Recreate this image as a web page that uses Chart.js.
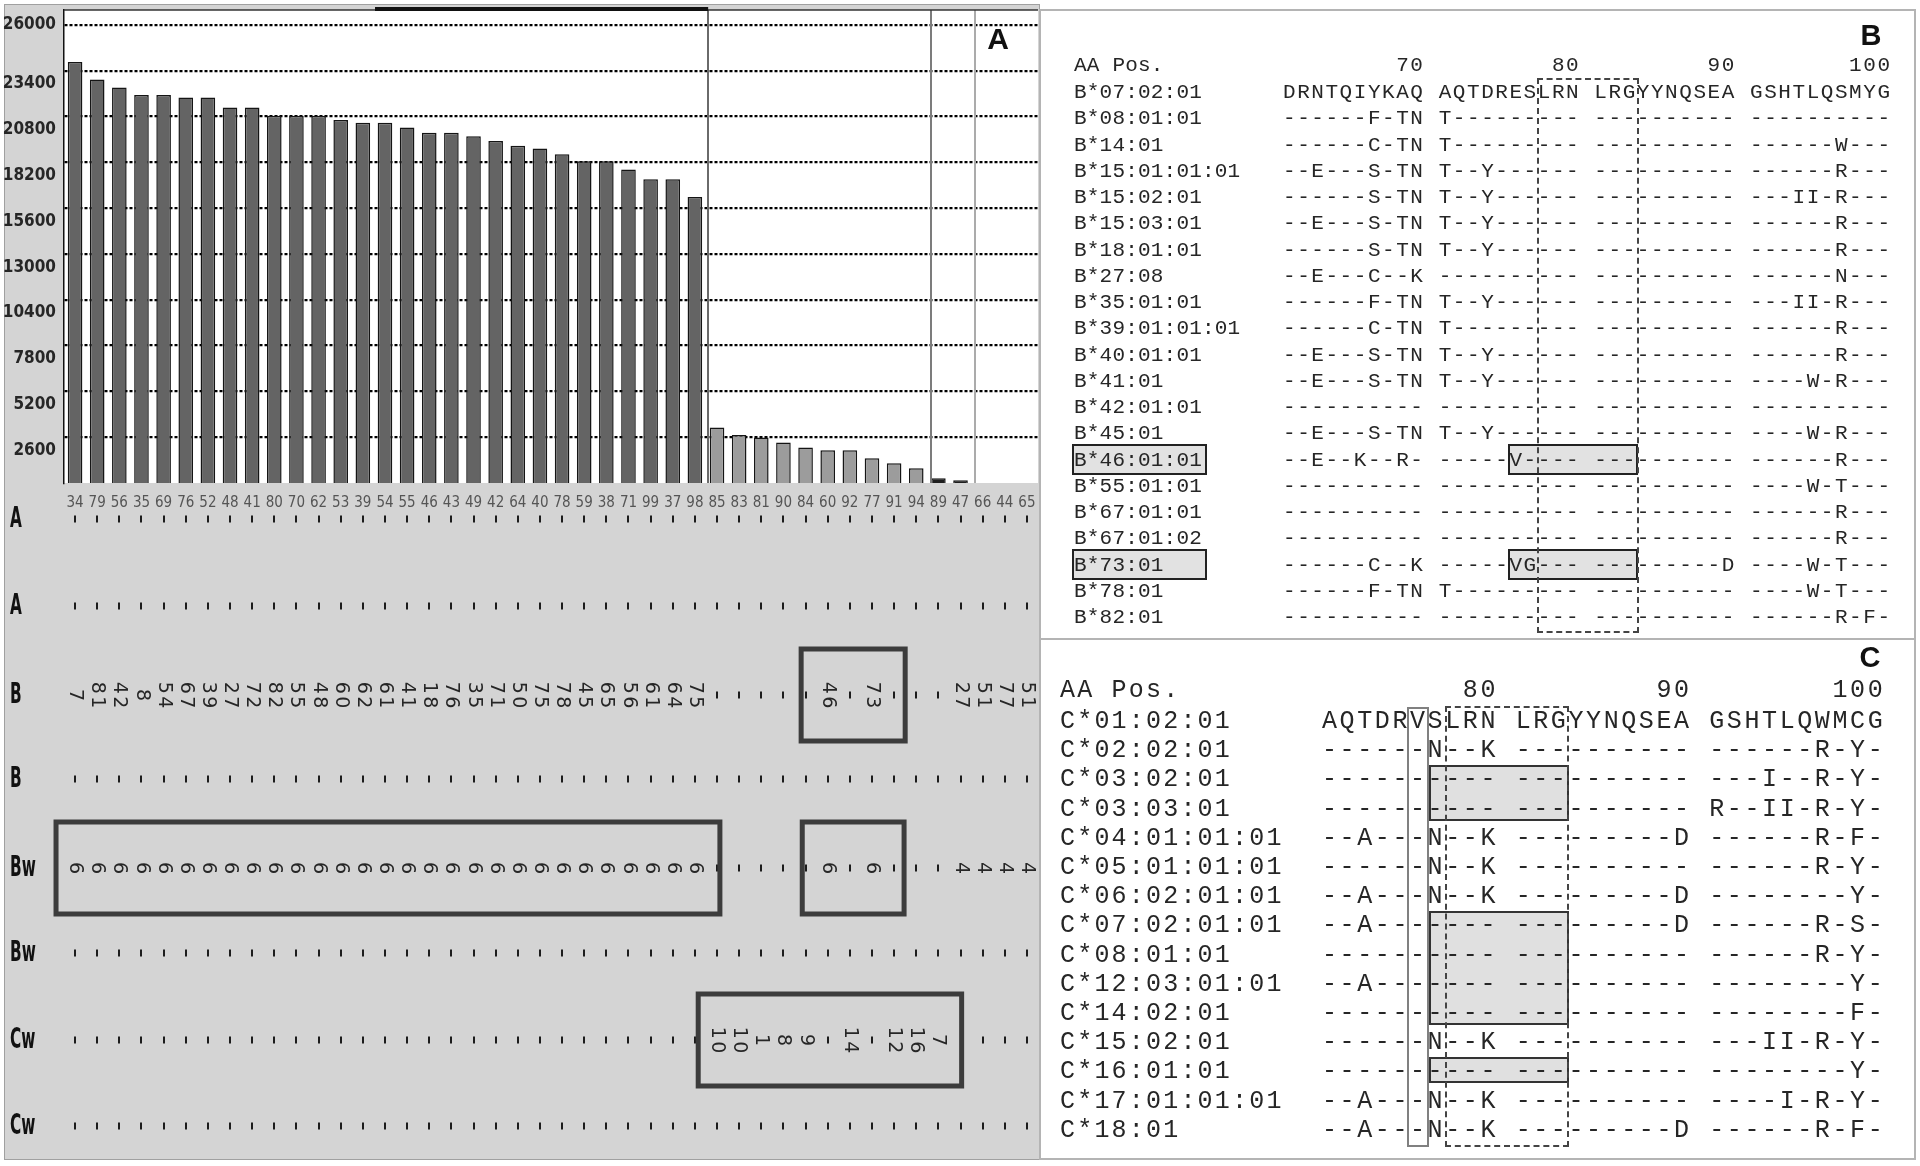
<!DOCTYPE html>
<html><head><meta charset="utf-8">
<script src="https://cdn.jsdelivr.net/npm/chart.js@4.4.1/dist/chart.umd.min.js"></script>
<style>
html,body{margin:0;padding:0;background:#fff;}
body{width:1920px;height:1166px;position:relative;overflow:hidden;font-family:"Liberation Sans",Arial,sans-serif;}
#panelA{position:absolute;left:4px;top:4px;width:1036px;height:1156px;background:#d4d4d4;border:1px solid #a0a0a0;box-sizing:border-box;}
#chartCanvas{position:absolute;left:0;top:0;}
.frame{position:absolute;box-sizing:border-box;border:2px solid #b4b4b4;}
.seqtxt{position:absolute;white-space:pre;line-height:1;transform:translateY(-50%);color:#262626;font-family:"Liberation Mono","DejaVu Sans Mono",monospace;z-index:3;}
.box{position:absolute;box-sizing:border-box;}
.panelLetter{position:absolute;font-weight:bold;font-family:"Liberation Sans",Arial,sans-serif;transform:translate(-50%,-50%);color:#111;line-height:1;z-index:5;}
</style></head>
<body>
<div id="panelA"></div>
<canvas id="chartCanvas" width="1040" height="1166"></canvas>
<div class="frame" style="left:1039px;top:9px;width:877px;height:631px;"></div>
<div class="frame" style="left:1039px;top:638px;width:877px;height:522px;"></div>
<div class="panelLetter" style="left:998px;top:39px;font-size:30px;">A</div>
<div class="panelLetter" style="left:1871px;top:35px;font-size:29px;">B</div>
<div class="panelLetter" style="left:1870px;top:657px;font-size:29px;">C</div>
<script>
// ---------------- DATA ----------------
const categories = ['34','79','56','35','69','76','52','48','41','80','70','62','53','39','54','55','46','43','49','42','64','40','78','59','38','71','99','37','98','85','83','81','90','84','60','92','77','91','94','89','47','66','44','65'];
const values = [23900,22900,22450,22020,22020,21890,21890,21320,21320,20850,20850,20850,20600,20450,20450,20180,19880,19880,19690,19420,19150,18990,18660,18270,18270,17790,17240,17240,16240,3150,2730,2580,2300,2010,1860,1860,1400,1120,840,270,150,0,0,0];
const barGroup = ['high','high','high','high','high','high','high','high','high','high','high','high','high','high','high','high','high','high','high','high','high','high','high','high','high','high','high','high','high','mid','mid','mid','mid','mid','mid','mid','mid','mid','mid','low','low','none','none','none'];
const yTicks = [2600,5200,7800,10400,13000,15600,18200,20800,23400,26000];
const dividerAt = [28.6, 38.65, 40.65];

const rowLabels = ['A','A','B','B','Bw','Bw','Cw','Cw'];
const rowA1 = ['','','','','','','','','','','','','','','','','','','','','','','','','','','','','','','','','','','','','','','','','','','',''];
const rowA2 = rowA1;
const rowB1 = ['7','81','42','8','54','67','39','27','72','82','55','48','60','62','61','41','18','76','35','71','50','75','78','45','65','56','61','64','75','','','','','','46','','73','','','','27','51','77','51'];
const rowB2 = rowA1;
const rowBw1 = ['6','6','6','6','6','6','6','6','6','6','6','6','6','6','6','6','6','6','6','6','6','6','6','6','6','6','6','6','6','','','','','','6','','6','','','','4','4','4','4'];
const rowBw2 = rowA1;
const rowCw1 = ['','','','','','','','','','','','','','','','','','','','','','','','','','','','','','10','10','1','8','9','','14','','12','16','7','','','',''];
const rowCw2 = rowA1;
const rows = [rowA1,rowA2,rowB1,rowB2,rowBw1,rowBw2,rowCw1,rowCw2];
const rowBoxes = [{row:2,from:32.8,to:37.5},{row:4,from:-0.86,to:29.13},{row:4,from:32.85,to:37.45},{row:6,from:28.15,to:40.05}];

const bHeader = ['        70','        80','        90','       100'];
const bAlleles = ['B*07:02:01','B*08:01:01','B*14:01','B*15:01:01:01','B*15:02:01','B*15:03:01','B*18:01:01','B*27:08','B*35:01:01','B*39:01:01:01','B*40:01:01','B*41:01','B*42:01:01','B*45:01','B*46:01:01','B*55:01:01','B*67:01:01','B*67:01:02','B*73:01','B*78:01','B*82:01'];
const bSeqs = [
'DRNTQIYKAQ AQTDRESLRN LRGYYNQSEA GSHTLQSMYG',
'------F-TN T--------- ---------- ----------',
'------C-TN T--------- ---------- ------W---',
'--E---S-TN T--Y------ ---------- ------R---',
'------S-TN T--Y------ ---------- ---II-R---',
'--E---S-TN T--Y------ ---------- ------R---',
'------S-TN T--Y------ ---------- ------R---',
'--E---C--K ---------- ---------- ------N---',
'------F-TN T--Y------ ---------- ---II-R---',
'------C-TN T--------- ---------- ------R---',
'--E---S-TN T--Y------ ---------- ------R---',
'--E---S-TN T--Y------ ---------- ----W-R---',
'---------- ---------- ---------- ----------',
'--E---S-TN T--Y------ ---------- ----W-R---',
'--E--K--R- -----V---- ---------- ------R---',
'---------- ---------- ---------- ----W-T---',
'---------- ---------- ---------- ------R---',
'---------- ---------- ---------- ------R---',
'------C--K -----VG--- ---------D ----W-T---',
'------F-TN T--------- ---------- ----W-T---',
'---------- ---------- ---------- ------R-F-'];
const bHighlight = ['B*46:01:01','B*73:01'];

const cHeader = ['        80','        90','       100'];
const cAlleles = ['C*01:02:01','C*02:02:01','C*03:02:01','C*03:03:01','C*04:01:01:01','C*05:01:01:01','C*06:02:01:01','C*07:02:01:01','C*08:01:01','C*12:03:01:01','C*14:02:01','C*15:02:01','C*16:01:01','C*17:01:01:01','C*18:01'];
const cSeqs = [
'AQTDRVSLRN LRGYYNQSEA GSHTLQWMCG',
'------N--K ---------- ------R-Y-',
'---------- ---------- ---I--R-Y-',
'---------- ---------- R--II-R-Y-',
'--A---N--K ---------D ------R-F-',
'------N--K ---------- ------R-Y-',
'--A---N--K ---------D --------Y-',
'--A------- ---------D ------R-S-',
'---------- ---------- ------R-Y-',
'--A------- ---------- --------Y-',
'---------- ---------- --------F-',
'------N--K ---------- ---II-R-Y-',
'---------- ---------- --------Y-',
'--A---N--K ---------- ----I-R-Y-',
'--A---N--K ---------D ------R-F-'];
const cShadedRows = [[2,3],[7,10],[12,12]];

// ---------------- STYLE ----------------
const toneFill = {high:'#646464', mid:'#9c9c9c', low:'#1e1e1e', none:'#646464'};
const narrow = '"Liberation Sans Narrow","DejaVu Sans Condensed","Liberation Sans",sans-serif';
const rowY = [519,606,695,779,868,953,1040,1126];
const dividerColors = ['#6a6a6a','#7c7c7c','#ababab'];

const panelPlugin = {
  id:'panelA',
  beforeDraw(chart){
    const {ctx, chartArea:a} = chart;
    ctx.save(); ctx.fillStyle='#ffffff';
    ctx.fillRect(a.left, a.top, a.right-a.left, a.bottom-a.top);
    ctx.restore();
  },
  afterDatasetsDraw(chart){
    const {ctx, chartArea:a, scales:{x}} = chart;
    ctx.save();
    dividerAt.forEach((d,i)=>{
      const px = Math.round(x.getPixelForValue(d));
      ctx.strokeStyle = dividerColors[i]; ctx.lineWidth = 2;
      ctx.beginPath(); ctx.moveTo(px, a.top); ctx.lineTo(px, a.bottom); ctx.stroke();
    });
    ctx.strokeStyle='#333'; ctx.lineWidth=1.5;
    ctx.beginPath(); ctx.moveTo(a.left, a.top); ctx.lineTo(a.right, a.top); ctx.stroke();
    ctx.strokeStyle='#111'; ctx.lineWidth=4;
    ctx.beginPath(); ctx.moveTo(x.getPixelForValue(13.55), a.top-1); ctx.lineTo(x.getPixelForValue(dividerAt[0]), a.top-1); ctx.stroke();
    ctx.restore();
  },
  afterDraw(chart){
    const {ctx, scales:{x}} = chart;
    ctx.save();
    rowLabels.forEach((lab, r)=>{
      ctx.save();
      ctx.translate(10, rowY[r]);
      ctx.scale(0.85, 1.45);
      ctx.font = 'bold 20px ' + narrow;
      ctx.fillStyle = '#111'; ctx.textAlign='left'; ctx.textBaseline='middle';
      ctx.fillText(lab, 0, 0);
      ctx.restore();
    });
    rows.forEach((row, r)=>{
      row.forEach((v, i)=>{
        const px = x.getPixelForValue(i);
        if (v === '') {
          ctx.fillStyle = '#1c1c1c';
          ctx.fillRect(Math.round(px)-1, rowY[r]-3.5, 2, 7);
        } else {
          const n = v.length;
          for (let j=0;j<n;j++){
            const cy = rowY[r] + (j-(n-1)/2)*14.5;
            ctx.save();
            ctx.translate(px, cy);
            ctx.rotate(Math.PI/2);
            ctx.font = '19px "DejaVu Sans","Liberation Sans",sans-serif';
            ctx.fillStyle = '#262626'; ctx.textAlign='center'; ctx.textBaseline='middle';
            ctx.fillText(v[j], 0, 0);
            ctx.restore();
          }
        }
      });
    });
    ctx.strokeStyle = '#3c3c3c'; ctx.lineWidth = 5;
    rowBoxes.forEach(b=>{
      const x1 = x.getPixelForValue(b.from), x2 = x.getPixelForValue(b.to);
      ctx.strokeRect(x1, rowY[b.row]-46, x2-x1, 92);
    });
    ctx.restore();
  }
};

new Chart(document.getElementById('chartCanvas'), {
  type:'bar',
  data:{labels:categories, datasets:[{
    data:values,
    backgroundColor: barGroup.map(g=>toneFill[g]),
    borderColor:'#151515',
    borderWidth: values.map(v=> v===0 ? 0 : 1.5),
    barPercentage:0.66, categoryPercentage:1
  }]},
  options:{
    responsive:false, animation:false, devicePixelRatio:1,
    layout:{padding:{left:0,right:2,top:10,bottom:0}},
    plugins:{legend:{display:false}, tooltip:{enabled:false}},
    scales:{
      x:{
        grid:{display:false}, border:{display:false},
        ticks:{color:'#555555', font:{family:narrow, size:15}, padding:3, maxRotation:0, autoSkip:false},
        afterFit(s){ s.height = 683; s.paddingLeft = 0; s.paddingRight = 0; }
      },
      y:{
        min:0, max:26850,
        afterBuildTicks(s){ s.ticks = yTicks.map(v=>({value:v})); },
        grid:{color:'#000', lineWidth:2.2, drawTicks:false},
        border:{display:true, color:'#111', width:1.5, dash:[3,2]},
        ticks:{
          color:'#262626', padding:8, autoSkip:false,
          font:{family:narrow, size:17, weight:'bold', lineHeight:1.55},
          callback(v){ return v === yTicks[yTicks.length-1] ? String(v) : ['', String(v)]; }
        },
        afterFit(s){ s.width = 64; s.paddingTop = 0; s.paddingBottom = 0; }
      }
    }
  },
  plugins:[panelPlugin]
});

// ---------------- Panels B and C ----------------
function addDiv(cls, txt, x, y, style){
  const d = document.createElement('div');
  d.className = cls; if (txt!==null) d.textContent = txt;
  d.style.left = x+'px'; d.style.top = y+'px';
  Object.assign(d.style, style||{});
  document.body.appendChild(d); return d;
}
const B = {nameX:1074, seqX:1283, row0:92, step:26.25, headY:65, cw:14.15};
const bName = {fontSize:'21px', letterSpacing:'0.2px'};
const bSeq = {fontSize:'21px', letterSpacing:'1.55px'};
addDiv('seqtxt','AA Pos.', B.nameX, B.headY, bName);
addDiv('seqtxt', bHeader.join(' '), B.seqX, B.headY, bSeq);
bAlleles.forEach((a,i)=>{
  const y = B.row0 + i*B.step;
  if (bHighlight.includes(a)) {
    addDiv('box', null, 1072, y-15.5, {width:'135px', height:'31px', background:'#e2e2e2', border:'2px solid #222', zIndex:1});
    addDiv('box', null, B.seqX+16*B.cw-1, y-15.5, {width:(9*B.cw+2)+'px', height:'31px', background:'#e2e2e2', border:'2px solid #222', zIndex:1});
  }
  addDiv('seqtxt', a, B.nameX, y, bName);
  addDiv('seqtxt', bSeqs[i], B.seqX, y, bSeq);
});
addDiv('box', null, B.seqX+18*B.cw-1, 78, {width:(7*B.cw+3)+'px', height:(633-78)+'px', border:'2.5px dashed #444', zIndex:4});

const C = {nameX:1060, seqX:1322, row0:721, step:29.2, headY:690, cw:17.6};
const cName = {fontSize:'25px', letterSpacing:'2.2px'};
const cSeq = {fontSize:'25px', letterSpacing:'2.6px'};
addDiv('seqtxt','AA Pos.', C.nameX, C.headY, cName);
addDiv('seqtxt', cHeader.join(' '), C.seqX, C.headY, cSeq);
cShadedRows.forEach(([r1,r2])=>{
  const y1 = C.row0 + r1*C.step - 14, y2 = C.row0 + r2*C.step + 12;
  addDiv('box', null, C.seqX+6.1*C.cw, y1, {width:(7.9*C.cw+1)+'px', height:(y2-y1)+'px', background:'#e0e0e0', border:'2px solid #333', zIndex:1});
});
cAlleles.forEach((a,i)=>{
  const y = C.row0 + i*C.step;
  addDiv('seqtxt', a, C.nameX, y, cName);
  addDiv('seqtxt', cSeqs[i], C.seqX, y, cSeq);
});
addDiv('box', null, C.seqX+4.85*C.cw, 707, {width:(1.25*C.cw)+'px', height:(1147-707)+'px', border:'2px solid #808080', zIndex:4});
addDiv('box', null, C.seqX+7*C.cw, 706, {width:(7*C.cw+1)+'px', height:(1147-706)+'px', border:'2.5px dashed #444', zIndex:4});
</script>
</body></html>
